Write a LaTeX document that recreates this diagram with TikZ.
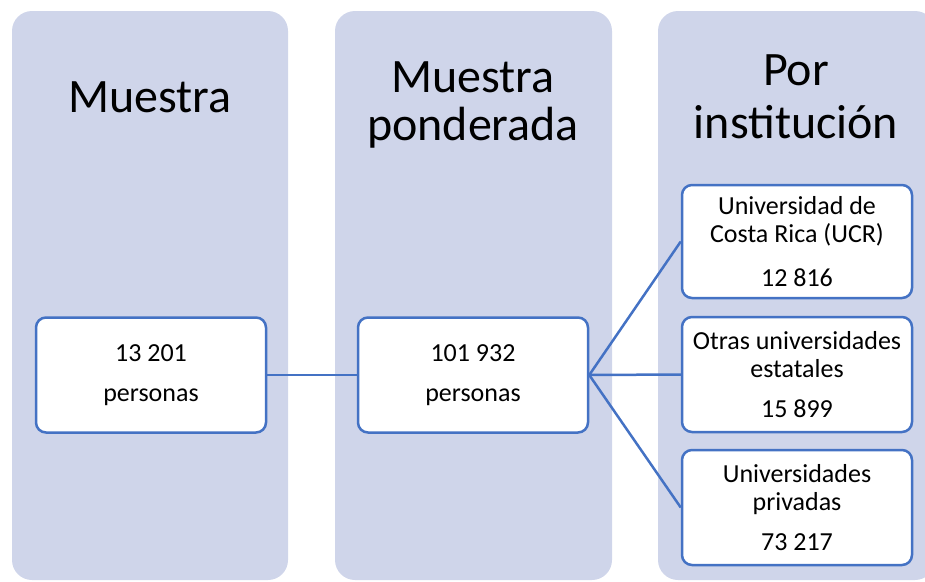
\documentclass[tikz,border=0pt]{standalone}
\usepackage{fontspec}
\setmainfont{Carlito}
\usepackage{xcolor}
\usepackage{tikz}

\definecolor{colfill}{HTML}{CFD5EA}
\definecolor{boxline}{HTML}{4472C4}

\begin{document}
\begin{tikzpicture}[
  x=1pt, y=-1pt,
  column/.style={fill=colfill, rounded corners=20pt},
  heading/.style={anchor=base, align=center, inner sep=0pt},
  item/.style={draw=boxline, line width=2.5pt, fill=white, rounded corners=10pt,
    align=center, inner sep=0pt, minimum width=230pt, minimum height=115pt,
    font=\fontsize{26}{28}\selectfont},
  link/.style={draw=boxline, line width=2.5pt}
]
  \useasboundingbox (0,0) rectangle (925,581);
  \clip (0,0) rectangle (925,581);
  % columns
  \fill[column] (12,11) rectangle (288,580);
  \fill[column] (335,11) rectangle (612,580);
  \fill[column] (658,11) rectangle (935,580);
  % headings
  \node[heading, font=\fontsize{48}{48}\selectfont] (muestrahead) at (150,112) {Muestra};
  \node[heading, font=\fontsize{48}{48}\selectfont] (ponderadahead) at (473,140) {Muestra\\ponderada};
  \node[heading, font=\fontsize{48}{53}\selectfont] (institucionhead) at (796,138) {Por\\institución};
  % boxes
  \node[item] (muestra) at (151,375) {13 201\\[12pt]personas};
  \node[item] (ponderada) at (473,375) {101 932\\[12pt]personas};
  \node[item, minimum height=113pt] (ucr) at (797,241.5) {Universidad de\\Costa Rica (UCR)\\[16pt]12 816};
  \node[item] (estatales) at (797,374.5) {Otras universidades\\estatales\\[12pt]15 899};
  \node[item] (privadas) at (797,507.5) {Universidades\\privadas\\[12pt]73 217};
  % connectors
  \draw[link] (muestra.east) -- (ponderada.west);
  \draw[link] (ponderada.east) -- (ucr.west);
  \draw[link] (ponderada.east) -- (estatales.west);
  \draw[link] (ponderada.east) -- (privadas.west);
\end{tikzpicture}
\end{document}
